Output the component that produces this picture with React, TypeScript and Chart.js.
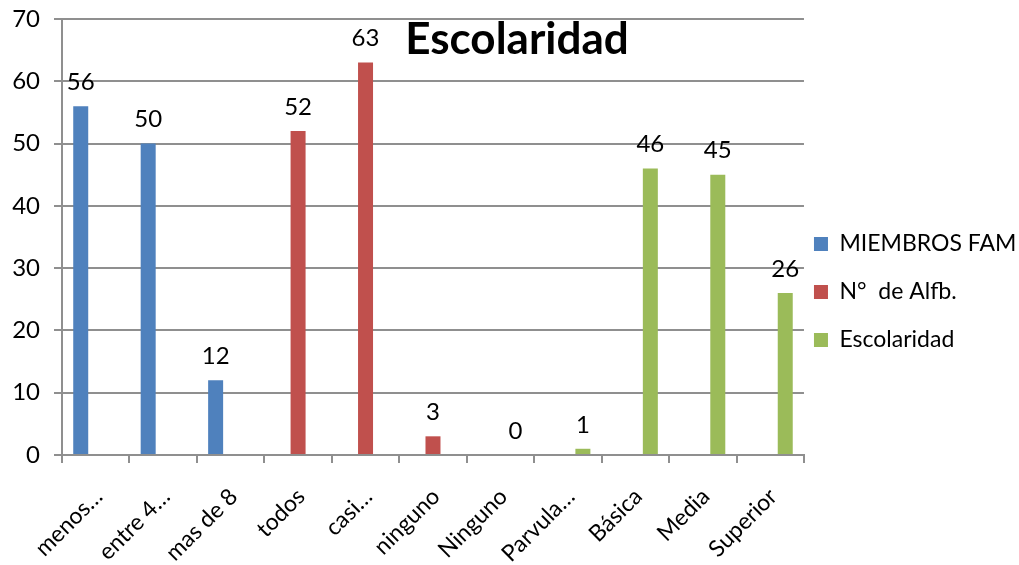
import React, { useEffect, useRef } from "react";
import { Chart, registerables } from "chart.js";

Chart.register(...registerables);

const categories = [
  "menos…",
  "entre 4…",
  "mas de 8",
  "todos",
  "casi…",
  "ninguno",
  "Ninguno",
  "Parvula…",
  "Básica",
  "Media",
  "Superior",
];
const miembrosFam = [56, 50, 12, null, null, null, null, null, null, null, null];
const alfabetizacion = [null, null, null, 52, 63, 3, null, null, null, null, null];
const escolaridad = [null, null, null, null, null, null, 0, 1, 46, 45, 26];
const yTicks = { min: 0, max: 70, step: 10 };
const chartTitle = "Escolaridad";

const FONT = "Lato, 'Open Sans', sans-serif";
const GRID = "#8f8f8f";

const valueLabels = {
  id: "valueLabels",
  afterDatasetsDraw(chart: any) {
    const ctx = chart.ctx;
    ctx.save();
    ctx.font = `24px ${FONT}`;
    ctx.fillStyle = "#000";
    ctx.textAlign = "center";
    ctx.textBaseline = "bottom";
    chart.data.datasets.forEach((ds: any, di: number) => {
      const meta = chart.getDatasetMeta(di);
      meta.data.forEach((el: any, i: number) => {
        const v = ds.data[i];
        if (v === null || v === undefined) return;
        ctx.fillText(String(v), el.x, el.y - 12);
      });
    });
    ctx.restore();
  },
};

const overlayTitle = {
  id: "overlayTitle",
  afterDraw(chart: any) {
    const ctx = chart.ctx;
    ctx.save();
    ctx.font = `bold 44px ${FONT}`;
    ctx.fillStyle = "#000";
    ctx.textAlign = "center";
    ctx.textBaseline = "alphabetic";
    ctx.fillText(chartTitle, 517, 54);
    ctx.restore();
  },
};

const legendShift = {
  id: "legendShift",
  afterLayout(chart: any) {
    const l = chart.legend;
    if (!l) return;
    l.left -= 15;
    l.right -= 15;
  },
};

export default function App() {
  const ref = useRef<HTMLCanvasElement>(null);
  useEffect(() => {
    if (!ref.current) return;
    const chart = new Chart(ref.current, {
      type: "bar",
      data: {
        labels: categories,
        datasets: [
          { label: "MIEMBROS FAM", data: miembrosFam, backgroundColor: "#4F81BD" },
          { label: "N°  de Alfb.", data: alfabetizacion, backgroundColor: "#C0504D" },
          { label: "Escolaridad", data: escolaridad, backgroundColor: "#9BBB59" },
        ],
      },
      options: {
        responsive: false,
        animation: false,
        devicePixelRatio: 1,
        datasets: {
          bar: { categoryPercentage: 0.667, barPercentage: 1.0 },
        },
        layout: { padding: { top: 19, right: -22.4, left: 0, bottom: 0 } },
        plugins: {
          title: { display: false },
          tooltip: { enabled: false },
          legend: {
            position: "right",
            labels: {
              boxWidth: 14,
              boxHeight: 14,
              padding: 25,
              color: "#000",
              font: { family: FONT, size: 23 },
            },
          },
        },
        scales: {
          x: {
            offset: true,
            grid: {
              offset: true,
              display: true,
              drawOnChartArea: false,
              drawTicks: true,
              tickLength: 8,
              color: GRID,
              lineWidth: 2,
            },
            border: { display: true, color: GRID, width: 2 },
            ticks: {
              autoSkip: false,
              minRotation: 45,
              maxRotation: 45,
              color: "#000",
              font: { family: FONT, size: 23 },
              padding: 20,
              labelOffset: 3,
            },
            afterFit(s: any) {
              s.height = 110;
            },
          },
          y: {
            min: yTicks.min,
            max: yTicks.max,
            ticks: {
              stepSize: yTicks.step,
              color: "#000",
              font: { family: FONT, size: 24, lineHeight: 0.1 },
              padding: 14,
            },
            grid: { color: GRID, lineWidth: 2, tickLength: 8, drawTicks: true },
            border: { display: true, color: GRID, width: 2 },
            afterFit(s: any) {
              s.width = 62;
            },
          },
        },
      },
      plugins: [valueLabels, overlayTitle, legendShift],
    });
    return () => chart.destroy();
  }, []);
  return (
    <div style={{ position: "absolute", left: 0, top: 0, width: 1019, height: 565, background: "#fff" }}>
      <canvas ref={ref} width={1019} height={565} />
    </div>
  );
}
